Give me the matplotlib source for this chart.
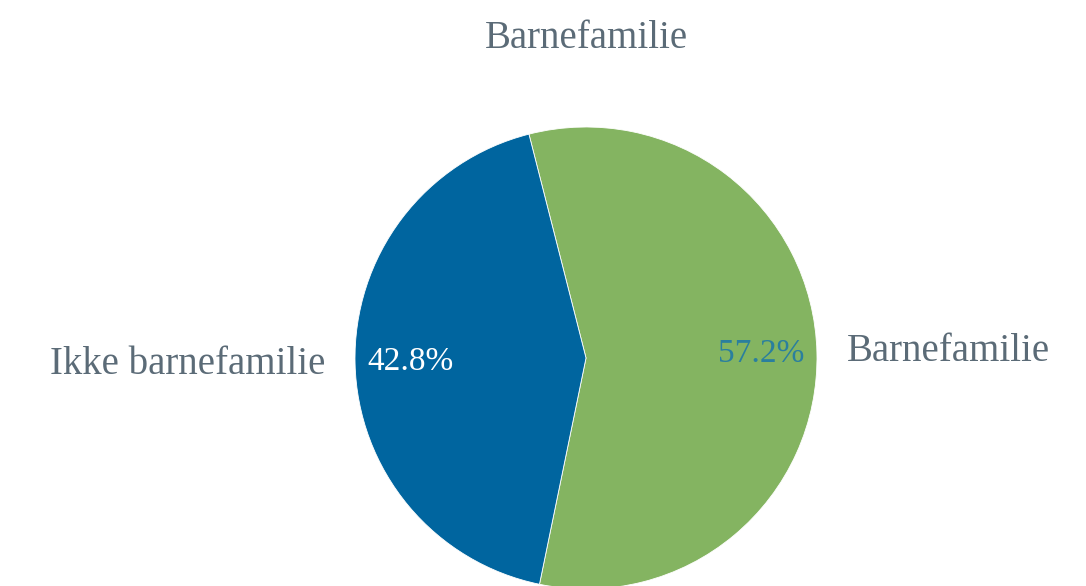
import matplotlib
matplotlib.use("Agg")
import matplotlib.pyplot as plt

plt.rcParams['font.family'] = ['Liberation Serif', 'DejaVu Serif']

## andel barnefamilier
categories = ["Barnefamilie", "Ikke barnefamilie"]
shares = [57.2, 42.8]
colors = ["#84b461", "#00659f"]
pct_colors = ["#2a7f9e", "white"]
title = "Barnefamilie"

W, H = 1086, 586
fig = plt.figure(figsize=(W / 100, H / 100), dpi=100)

# pie axes: centre (586, 358) px, radius 231 px
cx, cy, r = 586, 358, 231
ax = fig.add_axes([(cx - r) / W, (H - cy - r) / H, 2 * r / W, 2 * r / H])

wedges, texts, autotexts = ax.pie(
    shares, labels=categories, colors=colors,
    startangle=104.3, counterclock=False,
    autopct="%1.1f%%", pctdistance=0.76, labeldistance=1.13,
    wedgeprops=dict(edgecolor="white", linewidth=0.6),
    textprops=dict(fontsize=28, color="#5b6b77"),
)
for t, c in zip(autotexts, pct_colors):
    t.set_color(c)
    t.set_fontsize(24)
ax.set_xlim(-1, 1)
ax.set_ylim(-1, 1)
ax.set_aspect("equal")
for w in wedges:
    w.set_clip_on(False)

fig.text(cx / W, 1 - 38 / H, title, ha="center", va="center",
         fontsize=28, color="#5b6b77")

fig.savefig("out.png", dpi=100)
